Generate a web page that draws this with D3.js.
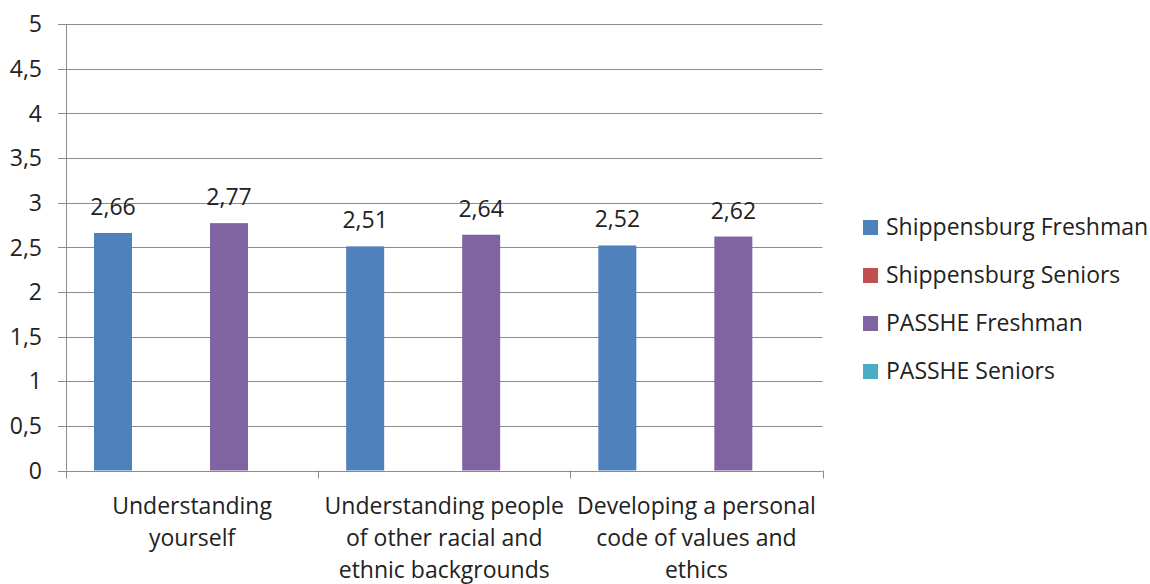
<!DOCTYPE html>
<html>
<head>
<meta charset="utf-8">
<script src="https://cdn.jsdelivr.net/npm/d3@7"></script>
<style>
  html, body { margin: 0; padding: 0; background: #fff; }
  svg { display: block; font-family: "Open Sans", "Noto Sans", sans-serif; }
</style>
</head>
<body>
<svg id="chart" width="1150" height="584"></svg>
<script>
// Categories (each label split into its wrapped lines)
const categories = ["Understanding yourself", "Understanding people of other racial and ethnic backgrounds", "Developing a personal code of values and ethics"];
const categoryLines = [
  ["Understanding", "yourself"],
  ["Understanding people", "of other racial and", "ethnic backgrounds"],
  ["Developing a personal", "code of values and", "ethics"]
];
const seriesNames = ["Shippensburg Freshman", "Shippensburg Seniors", "PASSHE Freshman", "PASSHE Seniors"];
const seriesColors = ["#4f81bd", "#c0504d", "#8064a2", "#4bacc6"];
// Values per series (null = no data)
const shipFreshman = [2.66, 2.51, 2.52];
const shipSeniors = [null, null, null];
const passheFreshman = [2.77, 2.64, 2.62];
const passheSeniors = [null, null, null];
const yTicks = [0, 0.5, 1, 1.5, 2, 2.5, 3, 3.5, 4, 4.5, 5];

const seriesValues = [shipFreshman, shipSeniors, passheFreshman, passheSeniors];
const fmt = v => String(v).replace(".", ",");
const FS = 23;

const svg = d3.select("#chart");
const plot = { left: 66, right: 822.5, top: 24, bottom: 470.5 };

const x0 = d3.scaleBand().domain(categories).range([plot.left, plot.right]);
const x1 = d3.scaleBand().domain(seriesNames)
  .range([28, 28 + 58 * 3 + 38]).paddingInner(20 / 58).paddingOuter(0);
const y = d3.scaleLinear().domain([0, 5]).range([plot.bottom, plot.top]);

// Horizontal gridlines with short ticks left of the axis
const grid = svg.append("g");
grid.selectAll("line").data(yTicks).join("line")
  .attr("x1", plot.left - 8).attr("x2", plot.right)
  .attr("y1", d => Math.round(y(d)) + 0.5).attr("y2", d => Math.round(y(d)) + 0.5)
  .attr("stroke", "#8c8c8c").attr("stroke-width", 1);

// Y axis labels
svg.append("g").selectAll("text").data(yTicks).join("text")
  .attr("x", 42).attr("y", d => y(d))
  .attr("dy", "0.36em").attr("text-anchor", "end")
  .attr("font-size", FS).attr("fill", "#222")
  .text(fmt);

// Vertical axis line
svg.append("line")
  .attr("x1", plot.left + 0.5).attr("x2", plot.left + 0.5)
  .attr("y1", plot.top).attr("y2", plot.bottom)
  .attr("stroke", "#8c8c8c");

// Category separators below the baseline
const sepX = categories.map(c => x0(c)).concat([plot.right]);
svg.append("g").selectAll("line").data(sepX).join("line")
  .attr("x1", d => Math.round(d) + 0.5).attr("x2", d => Math.round(d) + 0.5)
  .attr("y1", plot.bottom).attr("y2", plot.bottom + 8)
  .attr("stroke", "#8c8c8c");

// Bars
const groups = svg.append("g").selectAll("g").data(categories).join("g")
  .attr("transform", c => `translate(${x0(c)},0)`);
groups.each(function(c, ci) {
  const g = d3.select(this);
  const rows = seriesNames.map((s, si) => ({ s, si, v: seriesValues[si][ci] }))
    .filter(d => d.v != null);
  g.selectAll("rect").data(rows).join("rect")
    .attr("x", d => x1(d.s)).attr("width", x1.bandwidth())
    .attr("y", d => y(d.v)).attr("height", d => y(0) - y(d.v))
    .attr("fill", d => seriesColors[d.si]);
  g.selectAll("text").data(rows).join("text")
    .attr("x", d => x1(d.s) + x1.bandwidth() / 2)
    .attr("y", d => y(d.v) - 18)
    .attr("text-anchor", "middle").attr("font-size", FS).attr("fill", "#222")
    .text(d => fmt(d.v));
});

// Category labels
svg.append("g").selectAll("text").data(categories).join("text")
  .attr("x", c => x0(c) + x0.bandwidth() / 2)
  .attr("text-anchor", "middle").attr("font-size", FS).attr("fill", "#222")
  .each(function(c, i) {
    d3.select(this).selectAll("tspan").data(categoryLines[i]).join("tspan")
      .attr("x", x0(c) + x0.bandwidth() / 2)
      .attr("y", (d, j) => 514 + j * 32)
      .text(d => d);
  });

// Legend
const legend = svg.append("g").selectAll("g").data(seriesNames).join("g")
  .attr("transform", (d, i) => `translate(863,${227 + i * 48})`);
legend.append("rect").attr("x", 0).attr("y", -7).attr("width", 15).attr("height", 15)
  .attr("fill", (d, i) => seriesColors[i]);
legend.append("text").attr("x", 23).attr("y", 0).attr("dy", "0.36em")
  .attr("font-size", FS).attr("fill", "#222").text(d => d);
</script>
</body>
</html>
